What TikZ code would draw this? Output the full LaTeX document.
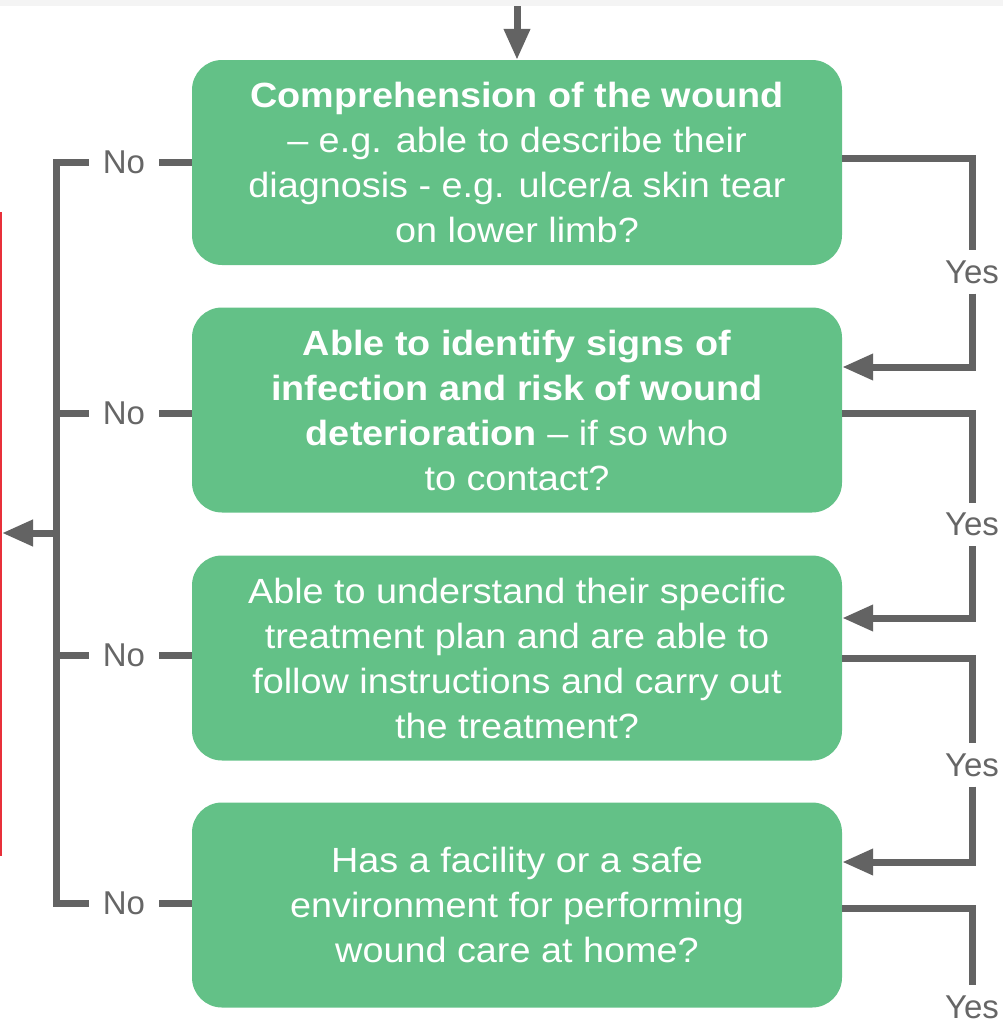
\documentclass[tikz,border=0pt]{standalone}
\usepackage{fontspec}
\setmainfont{Liberation Sans}[FakeStretch=1.08]
\newfontfamily\lblfont{Liberation Sans}
\usetikzlibrary{arrows.meta,calc}
\definecolor{boxgreen}{HTML}{63C187}
\definecolor{linegray}{HTML}{636363}
\definecolor{lblgray}{HTML}{666666}
\definecolor{bandgray}{HTML}{F4F4F4}
\definecolor{edgered}{HTML}{E8303A}
\begin{document}
\begin{tikzpicture}[x=1pt,y=-1pt,
  qbox/.style={fill=boxgreen, rounded corners=30pt, minimum width=650pt, minimum height=205pt,
    text=white, align=center, font=\fontsize{35}{45}\selectfont, inner sep=0pt},
  conn/.style={draw=linegray, line width=7pt},
  arr/.style={conn, -{Triangle[length=31pt,width=25pt]}},
  lbl/.style={text=lblgray, font=\lblfont\fontsize{33}{36}\selectfont, inner xsep=14pt, inner ysep=10pt}]
\useasboundingbox (0,0) rectangle (1003,1031);
\fill[bandgray] (0,0) rectangle (1003,6);
\draw[edgered, line width=1.5pt] (1,212) -- (1,856);

% boxes
\node[qbox] (b1) at (517,162.5) {\textbf{Comprehension of the wound}\\– e.g. able to describe their\\diagnosis - e.g. ulcer/a skin tear\\on lower limb?};
\node[qbox] (b2) at (517,410) {\textbf{Able to identify signs of}\\\textbf{infection and risk of wound}\\\textbf{deterioration} – if so who\\to contact?};
\node[qbox] (b3) at (517,658) {Able to understand their specific\\treatment plan and are able to\\follow instructions and carry out\\the treatment?};
\node[qbox] (b4) at (517,905) {Has a facility or a safe\\environment for performing\\wound care at home?};

% top incoming arrow
\coordinate (top) at (517,6);
\draw[arr] (top) -- (b1.north);

% No branches
\node[lbl] (n1) at (124,162) {No};
\node[lbl] (n2) at (124,413) {No};
\node[lbl] (n3) at (124,655) {No};
\node[lbl] (n4) at (124,903) {No};
\coordinate (t1) at (56,162);
\coordinate (t2) at (56,413);
\coordinate (t3) at (56,655);
\coordinate (t4) at (56,903);
\coordinate (exit) at (56,533);
\coordinate (outl) at (2,533);
\draw[conn] (n1 -| b1.west) -- (n1.east);
\draw[conn] (n2 -| b2.west) -- (n2.east);
\draw[conn] (n3 -| b3.west) -- (n3.east);
\draw[conn] (n4 -| b4.west) -- (n4.east);
\draw[conn] (n1.west) -- (t1) -- (t4) -- (n4.west);
\draw[conn] (n2.west) -- (t2);
\draw[conn] (n3.west) -- (t3);
\draw[arr] (exit) -- (outl);

% Yes branches
\node[lbl] (y1) at (972,272) {Yes};
\node[lbl] (y2) at (972,524.5) {Yes};
\node[lbl] (y3) at (972,765) {Yes};
\node[lbl] (y4) at (972,1007) {Yes};
\coordinate (r1) at (972,158);
\coordinate (r2) at (972,413);
\coordinate (r3) at (972,658);
\coordinate (r4) at (972,908);
\coordinate (s1) at (972,367);
\coordinate (s2) at (972,618);
\coordinate (s3) at (972,862);
\draw[conn] (b1.east |- r1) -- (r1) -- (y1.north);
\draw[arr] (y1.south) -- (s1) -- (b2.east |- s1);
\draw[conn] (b2.east |- r2) -- (r2) -- (y2.north);
\draw[arr] (y2.south) -- (s2) -- (b3.east |- s2);
\draw[conn] (b3.east |- r3) -- (r3) -- (y3.north);
\draw[arr] (y3.south) -- (s3) -- (b4.east |- s3);
\draw[conn] (b4.east |- r4) -- (r4) -- (y4.north);
\end{tikzpicture}
\end{document}
